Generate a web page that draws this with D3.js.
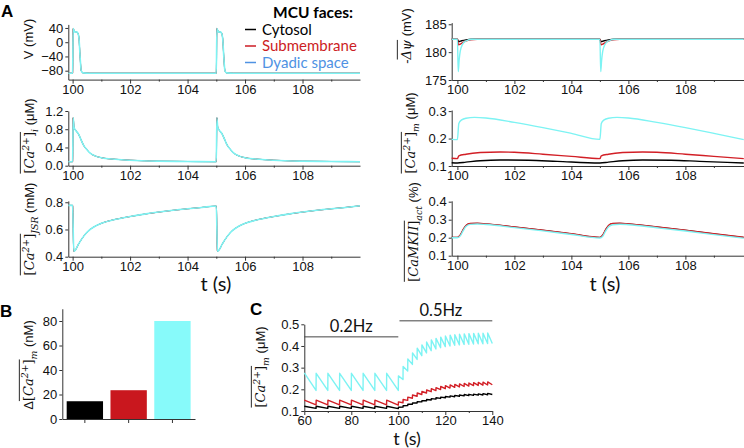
<!DOCTYPE html>
<html>
<head>
<meta charset="utf-8">
<script src="https://cdn.jsdelivr.net/npm/d3@7"></script>
<style>
  body { margin: 0; background: #fff; }
  svg { display: block; }
  .axis path, .axis line { stroke: #333; }
  .axis text { font-family: "Liberation Sans", Arial, sans-serif; font-size: 13px; fill: #111; }
</style>
</head>
<body>
<script>
// ---------- data ----------
const faces = ['Cytosol', 'Submembrane', 'Dyadic space'];

// A, left column: identical for the three MCU faces
const vMem = [[99.85,-87],[100,-87],[100.02,38],[100.05,33],[100.09,28],[100.13,29],[100.18,26],[100.22,12],[100.26,-40],[100.3,-80],[100.36,-86],[100.6,-87],
  [105,-87],[105.02,38],[105.05,33],[105.09,28],[105.13,29],[105.18,26],[105.22,12],[105.26,-40],[105.3,-80],[105.36,-86],[105.6,-87],[110,-87]];
const caCyto = [[99.85,0.088],[100,0.088],[100.02,1.05],[100.05,0.84],[100.1,0.78],[100.2,0.7],[100.3,0.56],[100.38,0.45],[100.5,0.35],[100.6,0.28],[100.8,0.21],[101,0.175],[101.5,0.14],[102,0.12],[103,0.1],[104,0.092],
  [105,0.088],[105.02,1.05],[105.05,0.84],[105.1,0.78],[105.2,0.7],[105.3,0.56],[105.38,0.45],[105.5,0.35],[105.6,0.28],[105.8,0.21],[106,0.175],[106.5,0.14],[107,0.12],[108,0.1],[109,0.092],[110,0.088]];
const caJsr = [[99.85,0.777],[100,0.777],[100.04,0.44],[100.1,0.45],[100.2,0.49],[100.35,0.54],[100.5,0.58],[100.75,0.62],[101,0.645],[101.5,0.675],[102,0.695],[102.5,0.713],[103,0.728],[103.5,0.741],[104,0.752],[104.5,0.762],
  [105,0.772],[105.04,0.44],[105.1,0.45],[105.2,0.49],[105.35,0.54],[105.5,0.58],[105.75,0.62],[106,0.645],[106.5,0.675],[107,0.695],[107.5,0.713],[108,0.728],[108.5,0.741],[109,0.752],[109.5,0.762],[110,0.774]];

// A, right column
const psiCyto = [[99.8,182.3],[100,182.3],[100.04,181.9],[100.15,182.05],[100.3,182.2],[100.5,182.3],[105,182.3],[105.04,181.9],[105.15,182.05],[105.3,182.2],[105.5,182.3],[110.05,182.3]];
const psiSub = [[99.8,182.3],[100,182.3],[100.04,181.3],[100.12,181.5],[100.25,181.9],[100.45,182.2],[100.7,182.3],[105,182.3],[105.04,181.3],[105.12,181.5],[105.25,181.9],[105.45,182.2],[105.7,182.3],[110.05,182.3]];
const psiDyad = [[99.8,182.3],[100,182.3],[100.03,176.5],[100.06,178.5],[100.1,180.2],[100.18,181.4],[100.3,182.0],[100.5,182.3],[105,182.3],[105.03,176.5],[105.06,178.5],[105.1,180.2],[105.18,181.4],[105.3,182.0],[105.5,182.3],[110.05,182.3]];

const caMitoCyto = [[99.8,0.112],[100,0.111],[100.3,0.114],[100.8,0.119],[101.5,0.122],[102.5,0.121],[103.5,0.117],[105,0.111],[105.3,0.114],[105.8,0.119],[106.5,0.122],[107.5,0.121],[108.5,0.117],[110.05,0.111]];
const caMitoSub = [[99.8,0.128],[100,0.127],[100.05,0.137],[100.3,0.143],[100.8,0.149],[101.5,0.151],[102,0.15],[103,0.143],[104,0.135],[105,0.127],[105.05,0.137],[105.3,0.143],[105.8,0.149],[106.5,0.151],[107,0.15],[108,0.143],[109,0.135],[110.05,0.127]];
const caMitoDyad = [[99.8,0.197],[100,0.196],[100.05,0.255],[100.15,0.268],[100.3,0.274],[100.6,0.277],[101,0.275],[102,0.259],[103,0.24],[104,0.219],[105,0.197],[105.05,0.255],[105.15,0.268],[105.3,0.274],[105.6,0.277],[106,0.275],[107,0.259],[108,0.24],[109,0.219],[110.05,0.196]];

const camkSub = [[99.8,0.202],[100,0.202],[100.1,0.215],[100.2,0.245],[100.3,0.268],[100.45,0.279],[100.7,0.28],[101,0.277],[102,0.26],[103,0.242],[104,0.222],[105,0.202],[105.1,0.215],[105.2,0.245],[105.3,0.268],[105.45,0.279],[105.7,0.28],[106,0.277],[107,0.26],[108,0.242],[109,0.222],[110.05,0.202]];
const camkDyad = [[99.8,0.2],[100,0.2],[100.1,0.21],[100.2,0.238],[100.3,0.262],[100.45,0.274],[100.7,0.276],[101,0.273],[102,0.256],[103,0.238],[104,0.218],[105,0.198],[105.1,0.208],[105.2,0.236],[105.3,0.26],[105.45,0.272],[105.7,0.275],[106,0.272],[107,0.255],[108,0.237],[109,0.217],[110.05,0.197]];
const camkCyto = camkSub; // hidden under the submembrane trace

// B
const deltaCaM = [14.5, 23.5, 80];

// C
const cTimes = [60,
  65,65.05, 70,70.05, 75,75.05, 80,80.05, 85,85.05, 90,90.05, 95,95.05, 100,100.05,
  102,102.05, 104,104.05, 106,106.05, 108,108.05, 110,110.05, 112,112.05, 114,114.05, 116,116.05, 118,118.05, 120,120.05,
  122,122.05, 124,124.05, 126,126.05, 128,128.05, 130,130.05, 132,132.05, 134,134.05, 136,136.05, 138,138.05,
  140];
const cCyto = [0.122,
  0.112,0.122, 0.112,0.122, 0.112,0.122, 0.112,0.122, 0.112,0.122, 0.112,0.122, 0.112,0.122, 0.111,0.117,
  0.118,0.124, 0.125,0.131, 0.131,0.137, 0.137,0.143, 0.142,0.148, 0.147,0.153, 0.151,0.157, 0.155,0.161, 0.158,0.164, 0.161,0.167,
  0.164,0.17, 0.166,0.172, 0.168,0.174, 0.17,0.176, 0.171,0.177, 0.172,0.178, 0.173,0.179, 0.174,0.18, 0.175,0.181,
  0.176];
const cSub = [0.15,
  0.128,0.15, 0.128,0.15, 0.128,0.15, 0.128,0.15, 0.128,0.15, 0.128,0.15, 0.128,0.15, 0.127,0.142,
  0.138,0.153, 0.149,0.164, 0.159,0.174, 0.168,0.183, 0.176,0.19, 0.183,0.197, 0.189,0.203, 0.194,0.208, 0.199,0.213, 0.203,0.217,
  0.206,0.22, 0.209,0.223, 0.211,0.225, 0.213,0.227, 0.215,0.229, 0.217,0.231, 0.218,0.232, 0.219,0.233, 0.22,0.234,
  0.221];
const cDyad = [0.276,
  0.195,0.274, 0.195,0.274, 0.195,0.274, 0.195,0.274, 0.195,0.274, 0.195,0.274, 0.195,0.274, 0.195,0.262,
  0.245,0.305, 0.285,0.34, 0.315,0.368, 0.338,0.39, 0.355,0.405, 0.368,0.418, 0.378,0.428, 0.386,0.435, 0.392,0.441, 0.397,0.446,
  0.4,0.45, 0.403,0.452, 0.405,0.454, 0.407,0.456, 0.408,0.457, 0.409,0.458, 0.41,0.459, 0.41,0.459, 0.411,0.46,
  0.411];
const pacing = [{ label: '0.2Hz', from: 60, to: 100 }, { label: '0.5Hz', from: 100.5, to: 140 }];

// ticks
const tTicks = [100, 102, 104, 106, 108];
const tMinor = [101, 103, 105, 107, 109];
const vTicks = [-80, -40, 0, 40];
const caiTicks = [0, 0.4, 0.8, 1.2];
const jsrTicks = [0.4, 0.6, 0.8];
const psiTicks = [175, 180, 185];
const camTicks = [0.1, 0.2, 0.3];
const camkTicks = [0.1, 0.2, 0.3, 0.4];
const bTicks = [0, 20, 40, 60, 80];
const cTTicks = [60, 80, 100, 120, 140];
const cTMinor = [70, 90, 110, 130];
const cYTicks = [0.1, 0.2, 0.3, 0.4, 0.5];

// ---------- drawing ----------
const colors = ['#000000', '#d21f26', '#7df3f3'];
const legendColors = ['#000000', '#cc1d24', '#4f92e3'];
const barColors = ['#000000', '#c9171e', '#87fafa'];
const sans = '"Liberation Sans", Arial, sans-serif';
const serif = '"DejaVu Serif", "Liberation Serif", serif';
const cal = 'Lato, "Open Sans", sans-serif';

const svg = d3.select('body').append('svg')
  .attr('width', 744)
  .attr('height', 448)
  .attr('viewBox', '0 0 744 448');

const panel = (o) => {
  const x = d3.scaleLinear().domain(o.xd).range([o.left, o.right]);
  const y = d3.scaleLinear().domain(o.yd).range([o.bottom, o.top]);
  const g = svg.append('g');
  if (o.xm) {
    g.append('g')
      .attr('class', 'axis')
      .attr('transform', `translate(0,${o.bottom})`)
      .call(d3.axisBottom(x).tickValues(o.xm).tickSize(2).tickFormat(''))
      .select('.domain').remove();
  }
  g.append('g')
    .attr('class', 'axis')
    .attr('transform', `translate(0,${o.bottom})`)
    .call(d3.axisBottom(x).tickValues(o.xt).tickSize(4).tickSizeOuter(0).tickPadding(1).tickFormat(d3.format('d')));
  g.append('g')
    .attr('class', 'axis')
    .attr('transform', `translate(${o.left},0)`)
    .call(d3.axisLeft(y).tickValues(o.yt).tickSize(3).tickSizeOuter(0).tickPadding(2).tickFormat(o.yf || d3.format('d')));
  return { g, x, y };
};

const trace = (p, data, color, curve, w = 1.4) => {
  p.g.append('path')
    .datum(data)
    .attr('fill', 'none')
    .attr('stroke', color)
    .attr('stroke-width', w)
    .attr('stroke-linejoin', 'round')
    .attr('d', d3.line().x(d => p.x(d[0])).y(d => p.y(d[1])).curve(curve || d3.curveMonotoneX));
};

// rotated y label; parts = [text, kind, overlined]
const yLabel = (bx, cy, parts, fs = 13) => {
  const g = svg.append('g').attr('transform', `translate(${bx},${cy}) rotate(-90)`);
  const t = g.append('text').attr('text-anchor', 'middle').attr('y', 0).attr('fill', '#111');
  let shift = 0, idx = 0;
  const over = [];
  parts.forEach(([s, kind, ov]) => {
    const target = kind === 'sub' ? fs * 0.3 : kind === 'sup' ? -fs * 0.42 : 0;
    const ts = t.append('tspan').text(s).attr('dy', target - shift);
    shift = target;
    const small = kind === 'sub' || kind === 'sup';
    ts.style('font-size', (small ? fs * 0.72 : fs) + 'px');
    if (kind === 'n') ts.style('font-family', sans);
    else if (kind === 'r') ts.style('font-family', serif);
    else ts.style('font-family', serif).style('font-style', 'italic');
    if (ov) over.push([idx, idx + s.length - 1]);
    idx += s.length;
  });
  if (over.length) {
    const node = t.node();
    const a = node.getStartPositionOfChar(over[0][0]).x;
    const b = node.getEndPositionOfChar(over[over.length - 1][1]).x;
    g.append('line')
      .attr('x1', a).attr('x2', b)
      .attr('y1', -fs * 1.05).attr('y2', -fs * 1.05)
      .attr('stroke', '#111').attr('stroke-width', 0.9);
  }
};

const caParts = (sub, unit) => [['[', 'r', 1], ['Ca', 'i', 1], ['2+', 'sup', 1], [']', 'r', 1], [sub, 'sub'], [unit, 'n']];

// ---- A left ----
const pV = panel({ left: 68.3, right: 360, top: 24.4, bottom: 79.6, xd: [99.85, 110], yd: [-105, 50], xt: tTicks, xm: tMinor, yt: vTicks });
const pCai = panel({ left: 68.3, right: 360, top: 111, bottom: 165.7, xd: [99.85, 110], yd: [0, 1.2], xt: tTicks, xm: tMinor, yt: caiTicks, yf: d3.format('.1f') });
const pJsr = panel({ left: 68.3, right: 360, top: 200.9, bottom: 256.7, xd: [99.85, 110], yd: [0.4, 0.81], xt: tTicks, xm: tMinor, yt: jsrTicks, yf: d3.format('.1f') });
[pV, pCai, pJsr].forEach((p, k) => {
  const data = [vMem, caCyto, caJsr][k];
  colors.forEach((c, i) => trace(p, data, c, null, i < 2 ? 0.8 : 1.6));
});

// ---- A right ----
const pPsi = panel({ left: 451.7, right: 743.8, top: 22.6, bottom: 80, xd: [99.8, 110.05], yd: [175, 185.3], xt: tTicks, xm: tMinor, yt: psiTicks });
const pCam = panel({ left: 451.7, right: 743.8, top: 110, bottom: 166, xd: [99.8, 110.05], yd: [0.1, 0.304], xt: tTicks, xm: tMinor, yt: camTicks, yf: d3.format('.1f') });
const pCamk = panel({ left: 451.7, right: 743.8, top: 200.8, bottom: 255.7, xd: [99.8, 110.05], yd: [0.1, 0.405], xt: tTicks, xm: tMinor, yt: camkTicks, yf: d3.format('.1f') });
[psiCyto, psiSub, psiDyad].forEach((d, i) => trace(pPsi, d, colors[i]));
[caMitoCyto, caMitoSub, caMitoDyad].forEach((d, i) => trace(pCam, d, colors[i]));
[camkCyto, camkSub, camkDyad].forEach((d, i) => trace(pCamk, d, colors[i], null, i === 0 ? 0.8 : 1.4));

// ---- B ----
const xb = d3.scaleBand().domain(faces).range([62.3, 195]).paddingInner(0.17).paddingOuter(0.1);
const yb = d3.scaleLinear().domain([0, 90]).range([419, 308.75]);
svg.append('g').attr('class', 'axis').attr('transform', 'translate(0,419)')
  .call(d3.axisBottom(xb).tickSize(4).tickSizeOuter(0).tickFormat(''));
svg.append('g').attr('class', 'axis').attr('transform', 'translate(62.3,0)')
  .call(d3.axisLeft(yb).tickValues(bTicks).tickSize(3).tickSizeOuter(0).tickPadding(2));
svg.append('g').selectAll('rect')
  .data(deltaCaM)
  .join('rect')
    .attr('x', (d, i) => xb(faces[i]))
    .attr('width', xb.bandwidth())
    .attr('y', d => yb(d))
    .attr('height', d => yb(0) - yb(d))
    .attr('fill', (d, i) => barColors[i]);

// ---- C ----
const pC = panel({ left: 304.3, right: 492.3, top: 324.3, bottom: 411, xd: [60, 140], yd: [0.1, 0.5], xt: cTTicks, xm: cTMinor, yt: cYTicks, yf: d3.format('.1f') });
[cCyto, cSub, cDyad].forEach((v, i) => trace(pC, d3.zip(cTimes, v), colors[i], d3.curveLinear));
const pacingLevel = [0.442, 0.516];
pacing.forEach((p, i) => {
  const yy = pC.y(pacingLevel[i]);
  pC.g.append('line')
    .attr('x1', pC.x(p.from)).attr('x2', pC.x(p.to))
    .attr('y1', yy).attr('y2', yy)
    .attr('stroke', '#444').attr('stroke-width', 1);
  pC.g.append('text')
    .attr('x', (pC.x(p.from) + pC.x(p.to)) / 2 - (i ? 5 : 0))
    .attr('y', yy - 5)
    .attr('text-anchor', 'middle')
    .style('font-family', cal).style('font-size', '16.5px').attr('fill', '#111')
    .text(p.label);
});

// ---- labels ----
yLabel(33, 39, [['V (mV)', 'n']]);
yLabel(34, 136, caParts('i', ' (μM)'));
yLabel(34, 229, caParts('JSR', ' (mM)'));
yLabel(411, 36, [['-', 'n'], ['Δψ', 'i', 1], [' (mV)', 'n']]);
yLabel(415, 133, caParts('m', ' (μM)'));
yLabel(418, 232, [['[', 'r', 1], ['CaMKII', 'i', 1], [']', 'r', 1], ['act', 'sub'], [' (%)', 'n']]);
yLabel(33, 365, [['Δ', 'n']].concat(caParts('m', ' (nM)')));
yLabel(265, 367, caParts('m', ' (μM)'));

[[216, 291, 20], [605, 291, 20], [407, 445, 18]].forEach(([x, y, fs]) => {
  svg.append('text').attr('x', x).attr('y', y).attr('text-anchor', 'middle')
    .style('font-family', cal).style('font-size', fs + 'px').attr('fill', '#111')
    .text('t (s)');
});

[['A', 1, 17], ['B', 0, 317], ['C', 250, 315]].forEach(([s, x, y]) => {
  svg.append('text').attr('x', x).attr('y', y)
    .style('font-family', sans).style('font-weight', 'bold').style('font-size', '17px')
    .text(s);
});

// legend
svg.append('text').attr('x', 273).attr('y', 18)
  .style('font-family', cal).style('font-weight', 'bold').style('font-size', '15.5px')
  .text('MCU faces:');
const legend = svg.append('g').selectAll('g')
  .data(faces)
  .join('g')
    .attr('transform', (d, i) => `translate(245,${29.5 + i * 16.5})`);
legend.append('line')
  .attr('x1', 0).attr('x2', 11)
  .attr('stroke', (d, i) => legendColors[i]).attr('stroke-width', 1.5);
legend.append('text')
  .attr('x', 17).attr('y', 5)
  .style('font-family', cal).style('font-size', '15px')
  .attr('fill', (d, i) => legendColors[i])
  .text(d => d);
</script>
</body>
</html>
